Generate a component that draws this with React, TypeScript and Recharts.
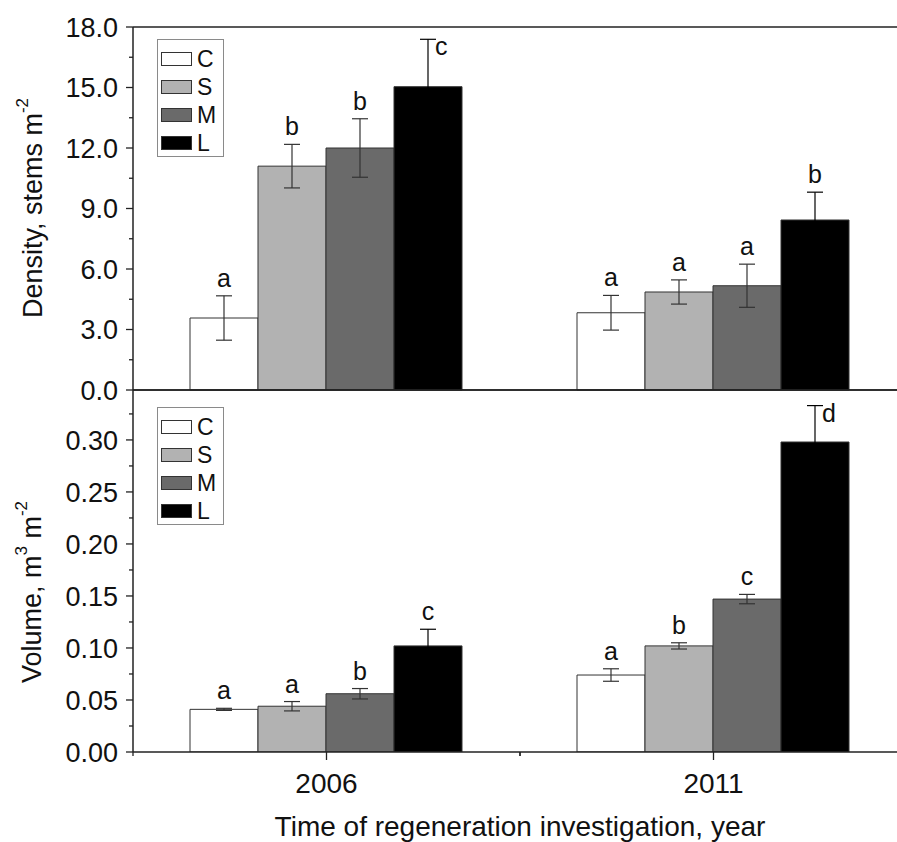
import React from 'react'
import { BarChart, Bar, XAxis, YAxis, ErrorBar, LabelList, ReferenceLine, Label } from 'recharts'

const years = ['2006', '2011']
const treatments = ['C', 'S', 'M', 'L']
const fills = ['#ffffff', '#b2b2b2', '#6a6a6a', '#000000']

// density, stems m-2 (order C, S, M, L)
const density2006 = [3.57, 11.1, 12.0, 15.04]
const density2011 = [3.83, 4.86, 5.17, 8.43]
const densityErr2006 = [1.1, 1.08, 1.45, 2.35]
const densityErr2011 = [0.86, 0.6, 1.07, 1.38]
const densityLetters2006 = ['a', 'b', 'b', 'c']
const densityLetters2011 = ['a', 'a', 'a', 'b']

// volume, m3 m-2
const volume2006 = [0.041, 0.044, 0.056, 0.102]
const volume2011 = [0.074, 0.102, 0.147, 0.298]
const volumeErr2006 = [0.001, 0.0045, 0.005, 0.016]
const volumeErr2011 = [0.006, 0.003, 0.0045, 0.035]
const volumeLetters2006 = ['a', 'a', 'b', 'c']
const volumeLetters2011 = ['a', 'b', 'c', 'd']

// every other tick is a labelled major tick
const densityTicks = [0, 1.5, 3, 4.5, 6, 7.5, 9, 10.5, 12, 13.5, 15, 16.5, 18]
const volumeTicks = [0, 0.025, 0.05, 0.075, 0.1, 0.125, 0.15, 0.175, 0.2, 0.225, 0.25, 0.275, 0.3, 0.325]
const densityMax = 18
const volumeMax = 0.348

const FONT = '"Liberation Sans", Arial, Helvetica, sans-serif'
const INK = '#222'
const PLOT_LEFT = 133
const PLOT_RIGHT = 907
const CHART_W = 920
const BAND = (PLOT_RIGHT - PLOT_LEFT) / years.length

function buildRows(means: number[][], errs: number[][], letters: string[][]) {
  return years.map((year, i) => {
    const row: any = { year }
    treatments.forEach((t, j) => {
      row[t] = means[i][j]
      row[t + '_err'] = errs[i][j]
      row[t + '_sig'] = letters[i][j]
    })
    return row
  })
}

const densityRows = buildRows([density2006, density2011], [densityErr2006, densityErr2011], [densityLetters2006, densityLetters2011])
const volumeRows = buildRows([volume2006, volume2011], [volumeErr2006, volumeErr2011], [volumeLetters2006, volumeLetters2011])

const makeYTick = (digits: number) => (props: any) => {
  const { x, y, payload, index } = props
  const major = index % 2 === 0
  return (
    <g>
      <line x1={x - (major ? 7 : 4)} y1={y} x2={x} y2={y} stroke={INK} strokeWidth={1.3} />
      {major && (
        <text x={x - 15} y={y} dy="0.36em" textAnchor="end" fontSize={27} fill="#111" fontFamily={FONT}>
          {Number(payload.value).toFixed(digits)}
        </text>
      )}
    </g>
  )
}

const YearTick = (props: any) => {
  const { x, y, payload } = props
  return (
    <g stroke={INK} strokeWidth={1.3}>
      <line x1={x} y1={y} x2={x} y2={y + 8} />
      <line x1={x - BAND / 2} y1={y} x2={x - BAND / 2} y2={y + 4} />
      <line x1={x + BAND / 2} y1={y} x2={x + BAND / 2} y2={y + 4} />
      <text x={x} y={y + 41} textAnchor="middle" fontSize={28} fill="#111" stroke="none" fontFamily={FONT}>
        {payload.value}
      </text>
    </g>
  )
}

// significance letter above the error bar (beside it when near the frame top)
const sigLabel = (rows: any[], key: string, max: number) => (props: any) => {
  const vb = props.viewBox || {}
  const x = Number(props.x ?? vb.x)
  const y = Number(props.y ?? vb.y)
  const width = Number(props.width ?? vb.width)
  const height = Number(props.height ?? vb.height)
  const row = rows[props.index] || props.payload
  const mean = row[key]
  const err = row[key + '_err']
  const errPx = mean ? (err * height) / mean : 0
  const cx = x + width / 2
  const top = y - errPx
  if (mean + err > max * 0.92) {
    return (
      <text x={cx + 7} y={top + 16} fontSize={25} textAnchor="start" fill="#111" fontFamily={FONT}>
        {props.value}
      </text>
    )
  }
  return (
    <text x={cx} y={top - 9} fontSize={25} textAnchor="middle" fill="#111" fontFamily={FONT}>
      {props.value}
    </text>
  )
}

const Legend = ({ top }: { top: number }) => (
  <div
    style={{
      position: 'absolute',
      left: 157,
      top,
      width: 67,
      height: 118,
      boxSizing: 'border-box',
      border: '1px solid #8a8a8a',
      background: '#fff',
    }}
  >
    {treatments.map((t, i) => (
      <div
        key={t}
        style={{ position: 'absolute', left: 3, top: 5 + i * 28, height: 28, display: 'flex', alignItems: 'center' }}
      >
        <div style={{ width: 31, height: 14, boxSizing: 'border-box', border: '1px solid #333', background: fills[i] }} />
        <span style={{ marginLeft: 5, fontSize: 23, lineHeight: '23px', color: '#111' }}>{t}</span>
      </div>
    ))}
  </div>
)

const bars = (rows: any[], max: number) =>
  treatments.map((t, i) => (
    <Bar key={t} dataKey={t} fill={fills[i]} stroke="#333" strokeWidth={1} isAnimationActive={false}>
      <ErrorBar dataKey={t + '_err'} width={8} stroke={t === 'L' ? '#000' : '#333'} strokeWidth={1.2} direction="y" />
      <LabelList dataKey={t + '_sig'} content={sigLabel(rows, t, max)} />
    </Bar>
  ))

export default function App() {
  return (
    <div
      style={{
        position: 'fixed',
        left: 0,
        top: 0,
        width: 897,
        height: 842,
        overflow: 'hidden',
        background: '#fff',
        fontFamily: FONT,
      }}
    >
      <div style={{ position: 'absolute', left: 0, top: 0 }}>
        <BarChart
          width={CHART_W}
          height={418}
          data={densityRows}
          margin={{ top: 27, right: CHART_W - PLOT_RIGHT, left: 0, bottom: 0 }}
          barCategoryGap={57}
          barGap={0}
        >
          <XAxis dataKey="year" tick={false} tickLine={false} height={28} axisLine={{ stroke: INK, strokeWidth: 1.5 }} />
          <YAxis
            type="number"
            domain={[0, densityMax]}
            ticks={densityTicks}
            interval={0}
            width={PLOT_LEFT}
            tickSize={0}
            tickMargin={0}
            tickLine={false}
            axisLine={{ stroke: INK, strokeWidth: 1.5 }}
            tick={makeYTick(1)}
          >
            <Label
              content={() => (
                <text x={33} y={208} transform="rotate(-90, 33, 208)" textAnchor="middle" dominantBaseline="central" fontSize={27} fill="#111" fontFamily={FONT}>
                  Density, stems m<tspan dy={-11} fontSize={17}>-2</tspan>
                </text>
              )}
            />
          </YAxis>
          <ReferenceLine y={densityMax} stroke={INK} strokeWidth={1.5} />
          {bars(densityRows, densityMax)}
        </BarChart>
      </div>
      <div style={{ position: 'absolute', left: 0, top: 380 }}>
        <BarChart
          width={CHART_W}
          height={462}
          data={volumeRows}
          margin={{ top: 10, right: CHART_W - PLOT_RIGHT, left: 0, bottom: 0 }}
          barCategoryGap={57}
          barGap={0}
        >
          <XAxis
            dataKey="year"
            height={90}
            tickSize={0}
            tickMargin={0}
            tickLine={false}
            axisLine={{ stroke: INK, strokeWidth: 1.5 }}
            tick={YearTick}
          >
            <Label
              content={() => (
                <text x={(PLOT_LEFT + PLOT_RIGHT) / 2} y={456} textAnchor="middle" fontSize={28} fill="#111" fontFamily={FONT}>
                  Time of regeneration investigation, year
                </text>
              )}
            />
          </XAxis>
          <YAxis
            type="number"
            domain={[0, volumeMax]}
            ticks={volumeTicks}
            interval={0}
            allowDataOverflow
            width={PLOT_LEFT}
            tickSize={0}
            tickMargin={0}
            tickLine={false}
            axisLine={{ stroke: INK, strokeWidth: 1.5 }}
            tick={makeYTick(2)}
          >
            <Label
              content={() => (
                <text x={32} y={212} transform="rotate(-90, 32, 212)" textAnchor="middle" dominantBaseline="central" fontSize={27} fill="#111" fontFamily={FONT}>
                  Volume, m<tspan dy={-11} fontSize={17}>3</tspan>
                  <tspan dy={11}> m</tspan>
                  <tspan dy={-11} fontSize={17}>-2</tspan>
                </text>
              )}
            />
          </YAxis>
          <ReferenceLine y={volumeMax} stroke={INK} strokeWidth={1.5} />
          {bars(volumeRows, volumeMax)}
        </BarChart>
      </div>
      <Legend top={39} />
      <Legend top={407} />
    </div>
  )
}
